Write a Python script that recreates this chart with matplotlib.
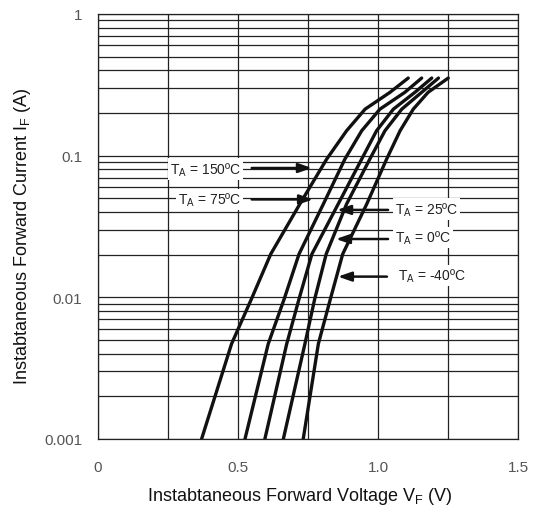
import numpy as np
import matplotlib
matplotlib.use('Agg')
import matplotlib.pyplot as plt
from matplotlib.ticker import FixedLocator, NullFormatter, LogLocator

plt.rcParams['font.family'] = ['Liberation Sans', 'DejaVu Sans']
plt.rcParams['mathtext.fontset'] = 'custom'
plt.rcParams['mathtext.rm'] = 'Liberation Sans'
plt.rcParams['mathtext.it'] = 'Liberation Sans'

# forward current levels (A) where the curves were read
current = [0.001, 0.00469, 0.00973, 0.0202, 0.0456, 0.0947, 0.15, 0.213, 0.28, 0.353]

# forward voltage (V) of each temperature curve at those currents
vf_150 = [0.370, 0.477, 0.548, 0.617, 0.721, 0.817, 0.888, 0.954, 1.043, 1.108]
vf_75 = [0.525, 0.608, 0.665, 0.718, 0.805, 0.882, 0.942, 1.007, 1.096, 1.156]
vf_25 = [0.596, 0.674, 0.718, 0.764, 0.858, 0.942, 0.995, 1.055, 1.132, 1.192]
vf_0 = [0.662, 0.739, 0.774, 0.815, 0.888, 0.971, 1.025, 1.085, 1.156, 1.216]
vf_m40 = [0.733, 0.787, 0.830, 0.874, 0.960, 1.031, 1.079, 1.126, 1.179, 1.251]

x_ticks = [0, 0.5, 1.0, 1.5]
x_tick_labels = ['0', '0.5', '1.0', '1.5']
y_ticks = [0.001, 0.01, 0.1, 1]
y_tick_labels = ['0.001', '0.01', '0.1', '1']

fig = plt.figure(figsize=(5.34, 5.10), dpi=100)
ax = fig.add_axes([0.1835, 0.1373, 0.7865, 0.8333])

ax.set_yscale('log')
ax.set_xlim(0, 1.5)
ax.set_ylim(0.001, 1)

# grid
ax.set_xticks(x_ticks)
ax.set_xticklabels(x_tick_labels)
ax.xaxis.set_minor_locator(FixedLocator([0.25, 0.75, 1.25]))
ax.set_yticks(y_ticks)
ax.set_yticklabels(y_tick_labels)
ax.yaxis.set_minor_locator(LogLocator(base=10, subs=np.arange(2, 10), numticks=20))
ax.yaxis.set_minor_formatter(NullFormatter())
ax.grid(which='both', color='#222222', linewidth=0.9)
ax.tick_params(which='both', length=0, colors='#555555', labelsize=11)
ax.tick_params(axis='x', pad=15)
ax.tick_params(axis='y', pad=11.5)
for s in ax.spines.values():
    s.set_color('#222222')
    s.set_linewidth(0.9)

for vf in [vf_150, vf_75, vf_25, vf_0, vf_m40]:
    ax.plot(vf, current, color='#111111', linewidth=2.4, solid_capstyle='round', zorder=3)

# labels with arrows
arrow = dict(arrowstyle='-|>,head_length=0.8,head_width=0.28', color='#111111', lw=1.8,
             shrinkA=0, shrinkB=0)
box = dict(boxstyle='square,pad=0.15', facecolor='white', edgecolor='none')
labels = [
    ('T$_\\mathrm{A}$ = 150ºC', 0.257, 0.0806, 0.549, 0.0818, 0.764),
    ('T$_\\mathrm{A}$ = 75ºC', 0.286, 0.0490, 0.549, 0.0491, 0.768),
    ('T$_\\mathrm{A}$ = 25ºC', 1.061, 0.0421, 1.036, 0.0414, 0.854),
    ('T$_\\mathrm{A}$ = 0ºC', 1.061, 0.0265, 1.036, 0.0258, 0.850),
    ('T$_\\mathrm{A}$ = -40ºC', 1.071, 0.0143, 1.032, 0.0140, 0.857),
]
for txt, tx, ty, x0, y0, x1 in labels:
    ax.text(tx, ty, txt, fontsize=10, color='#222222', ha='left', va='center',
            bbox=box, zorder=4)
    ax.annotate('', xy=(x1, y0), xytext=(x0, y0), arrowprops=arrow, zorder=5)

ax.set_xlabel('Instabtaneous Forward Voltage V$_\\mathrm{F}$ (V)', fontsize=13, color='#111111')
ax.set_ylabel('Instabtaneous Forward Current I$_\\mathrm{F}$ (A)', fontsize=13, color='#111111')
ax.xaxis.set_label_coords(0.481, -0.108)
ax.yaxis.set_label_coords(-0.155, 0.48)

fig.savefig('out.png', dpi=100)
